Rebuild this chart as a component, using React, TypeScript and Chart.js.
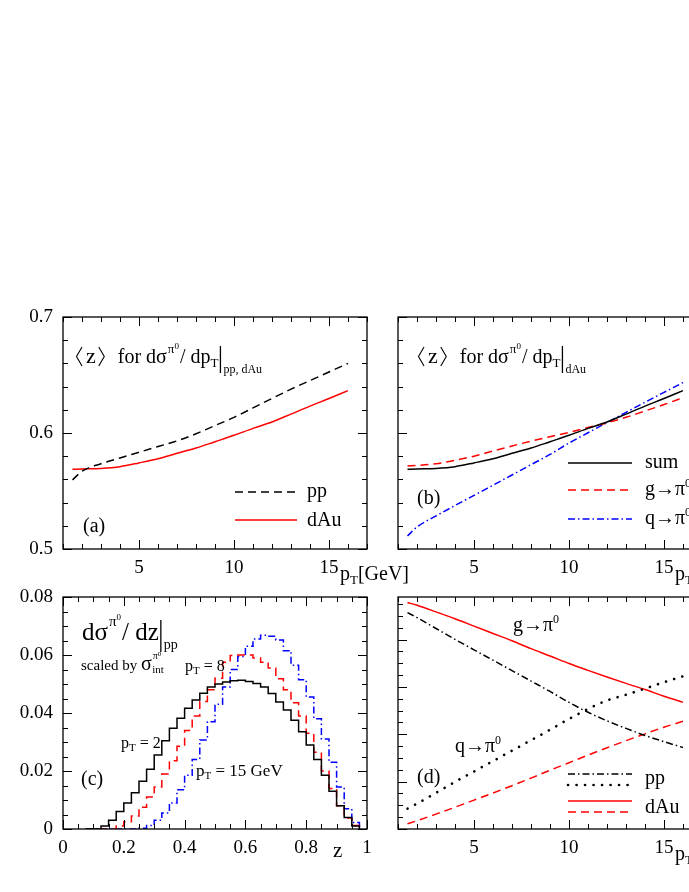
import React, { useEffect, useRef } from 'react';
import { Chart, registerables } from 'chart.js';

Chart.register(...registerables);

const SERIF = '"Liberation Serif", "DejaVu Serif", serif';

// ---------------- data ----------------
// transverse momentum grid (GeV) for panels (a), (b), (d)
const pT = [1.5, 2, 3, 4, 5, 6, 7, 8, 9, 10, 11, 12, 13, 14, 15, 16];

// (a) <z> for dsigma/dpT
const meanZpp = [0.5595, 0.567, 0.5735, 0.5785, 0.5834, 0.5883, 0.5932, 0.5993, 0.6064, 0.6135, 0.6216, 0.6298, 0.6378, 0.6452, 0.6526, 0.66];
const meanZdAu = [0.5687, 0.569, 0.5695, 0.571, 0.5742, 0.5778, 0.5825, 0.587, 0.5925, 0.598, 0.604, 0.6095, 0.6163, 0.6232, 0.6297, 0.6365];

// (b) <z> in dAu split by fragmenting parton
const meanZsum = [0.5687, 0.569, 0.5695, 0.571, 0.5742, 0.5778, 0.5825, 0.587, 0.5925, 0.598, 0.604, 0.6095, 0.6163, 0.6232, 0.6297, 0.6365];
const meanZgluon = [0.5716, 0.572, 0.5735, 0.5765, 0.58, 0.5845, 0.5888, 0.593, 0.5968, 0.6005, 0.6047, 0.6088, 0.6135, 0.619, 0.6245, 0.6305];
const meanZquark = [0.5112, 0.519, 0.5285, 0.5375, 0.5462, 0.555, 0.5638, 0.5727, 0.5815, 0.5913, 0.6002, 0.609, 0.6178, 0.6265, 0.635, 0.6435];

// (d) fractions of g -> pi0 and q -> pi0
const fracGluonPP = [0.914, 0.893, 0.847, 0.801, 0.757, 0.713, 0.669, 0.625, 0.581, 0.535, 0.493, 0.457, 0.425, 0.395, 0.369, 0.344];
const fracQuarkPP = [0.086, 0.107, 0.153, 0.199, 0.243, 0.287, 0.331, 0.375, 0.419, 0.465, 0.507, 0.543, 0.567, 0.593, 0.62, 0.645];
const fracGluonDAu = [0.957, 0.945, 0.917, 0.888, 0.857, 0.826, 0.795, 0.762, 0.731, 0.699, 0.67, 0.642, 0.615, 0.589, 0.561, 0.535];
const fracQuarkDAu = [0.022, 0.035, 0.063, 0.092, 0.122, 0.152, 0.183, 0.215, 0.248, 0.28, 0.312, 0.343, 0.373, 0.402, 0.43, 0.455];

// (c) z distributions, bin lower edges (last entry = upper edge of last bin)
const zEdges = [0.075, 0.1, 0.125, 0.15, 0.175, 0.2, 0.225, 0.25, 0.275, 0.3, 0.325, 0.35, 0.375, 0.4, 0.425, 0.45, 0.475, 0.5, 0.525, 0.55, 0.575, 0.6, 0.625, 0.65, 0.675, 0.7, 0.725, 0.75, 0.775, 0.8, 0.825, 0.85, 0.875, 0.9, 0.925, 0.95, 0.975];
const distPt2 = [0, 0, 0.001, 0.003, 0.006, 0.009, 0.0125, 0.0165, 0.0206, 0.0255, 0.0304, 0.0347, 0.0382, 0.0416, 0.0445, 0.0468, 0.049, 0.05, 0.0507, 0.0511, 0.0513, 0.0509, 0.0502, 0.049, 0.0467, 0.0438, 0.041, 0.0375, 0.0335, 0.029, 0.024, 0.0185, 0.013, 0.008, 0.004, 0.001];
const distPt8 = [0, 0, 0, 0, 0.001, 0.0025, 0.0045, 0.0075, 0.011, 0.0145, 0.019, 0.0235, 0.0285, 0.034, 0.039, 0.044, 0.048, 0.052, 0.0575, 0.0598, 0.06, 0.06, 0.059, 0.0575, 0.0555, 0.0518, 0.048, 0.0435, 0.039, 0.033, 0.0265, 0.02, 0.014, 0.008, 0.0038, 0.0012];
const distPt15 = [0, 0, 0, 0, 0, 0, 0, 0.0003, 0.0012, 0.003, 0.0055, 0.009, 0.0135, 0.0185, 0.024, 0.0307, 0.037, 0.043, 0.049, 0.055, 0.0595, 0.063, 0.0655, 0.0668, 0.0665, 0.0652, 0.0615, 0.0565, 0.0515, 0.0455, 0.038, 0.031, 0.023, 0.0145, 0.007, 0.0022];

// tick labels / major ticks
const pTTickLabels = [5, 10, 15];
const meanZTickLabels = [0.5, 0.6, 0.7];
const zTickLabels = [0, 0.2, 0.4, 0.6, 0.8, 1];
const distTickLabels = [0, 0.02, 0.04, 0.06, 0.08];
const fracMajorTicks = [0, 0.2, 0.4, 0.6, 0.8];

// ---------------- styles ----------------
const RED = '#ff0000';
const BLUE = '#0000ff';
const BLACK = '#000000';
const SOLID: number[] = [];
const DASH = [8, 5];
const DASHDOT = [7, 3, 1.5, 3];
const DOT = [0.1, 8.4];

type AxisSpec = { min: number; max: number; step: number; majors: number[]; labels: boolean; pad: number };
type PanelSpec = {
  key: string;
  left: number;
  top: number;
  w: number;
  h: number;
  yW: number;
  xH: number;
  padRight: number;
  x: AxisSpec;
  y: AxisSpec;
  datasets: any[];
  annotate: (ctx: CanvasRenderingContext2D, L: number, T: number) => void;
};

const near = (a: number, b: number, eps = 1e-7) => Math.abs(a - b) < eps;
const onStep = (v: number, step: number) => near(v / step, Math.round(v / step), 1e-6);
const fmt = (v: number) => String(Math.round(v * 1000) / 1000);

function curve(xs: number[], ys: number[], color: string, dash: number[], width = 1.5, cap: CanvasLineCap = 'butt') {
  return {
    data: xs.map((x, i) => ({ x, y: ys[i] })),
    borderColor: color,
    borderWidth: width,
    borderDash: dash,
    borderCapStyle: cap,
    pointRadius: 0,
    fill: false,
    cubicInterpolationMode: 'monotone',
  };
}

function hist(edges: number[], vals: number[], color: string, dash: number[]) {
  const data = vals.map((v, i) => ({ x: edges[i], y: v }));
  data.push({ x: edges[vals.length], y: 0 });
  return {
    data,
    borderColor: color,
    borderWidth: 1.5,
    borderDash: dash,
    pointRadius: 0,
    fill: false,
    stepped: 'before',
  };
}

type Seg = { t?: string; s?: number; dy?: number; dx?: number; bar?: [number, number]; ang?: 'l' | 'r' };

function rich(ctx: CanvasRenderingContext2D, x: number, y: number, segs: Seg[]) {
  let cx = x;
  for (const g of segs) {
    cx += g.dx ?? 0;
    if (g.ang) {
      ctx.save();
      ctx.lineWidth = 1.1;
      ctx.strokeStyle = '#000';
      ctx.beginPath();
      if (g.ang === 'l') {
        ctx.moveTo(cx + 7, y - 16);
        ctx.lineTo(cx + 1.5, y - 6.5);
        ctx.lineTo(cx + 7, y + 3);
      } else {
        ctx.moveTo(cx + 1, y - 16);
        ctx.lineTo(cx + 6.5, y - 6.5);
        ctx.lineTo(cx + 1, y + 3);
      }
      ctx.stroke();
      ctx.restore();
      cx += 8;
      continue;
    }
    if (g.bar) {
      ctx.save();
      ctx.lineWidth = 1.3;
      ctx.strokeStyle = '#000';
      ctx.beginPath();
      ctx.moveTo(cx + 1, y + g.bar[0]);
      ctx.lineTo(cx + 1, y + g.bar[1]);
      ctx.stroke();
      ctx.restore();
      cx += 3;
      continue;
    }
    ctx.font = `${g.s ?? 20}px ${SERIF}`;
    ctx.fillText(g.t ?? '', cx, y + (g.dy ?? 0));
    cx += ctx.measureText(g.t ?? '').width;
  }
  return cx;
}

function text(ctx: CanvasRenderingContext2D, t: string, x: number, y: number, s = 20) {
  ctx.font = `${s}px ${SERIF}`;
  ctx.fillText(t, x, y);
}

function sample(ctx: CanvasRenderingContext2D, x1: number, x2: number, y: number, color: string, dash: number[], width = 1.5, cap: CanvasLineCap = 'butt') {
  ctx.save();
  ctx.strokeStyle = color;
  ctx.lineWidth = width;
  ctx.setLineDash(dash);
  ctx.lineCap = cap;
  ctx.beginPath();
  ctx.moveTo(x1, y);
  ctx.lineTo(x2, y);
  ctx.stroke();
  ctx.restore();
}

const meanZTitle = (sub: string): Seg[] => [
  { ang: 'l' },
  { t: 'z', s: 22, dx: 3 },
  { ang: 'r', dx: 2 },
  { t: 'for dσ', s: 20, dx: 12 },
  { t: 'π', s: 13, dy: -10, dx: 1 },
  { t: '0', s: 9, dy: -14 },
  { t: '/ dp', s: 20, dx: 1 },
  { t: 'T', s: 13, dy: 4 },
  { bar: [-17, 10], dx: 1 },
  { t: sub, s: 12, dy: 10, dx: 1 },
];

const pTAxisTitle: Seg[] = [{ t: 'p', s: 20 }, { t: 'T', s: 13, dy: 4 }, { t: '[GeV]', s: 20 }];

const pTAxis: AxisSpec = { min: 1, max: 17, step: 1, majors: pTTickLabels, labels: true, pad: 8 };

const PANELS: PanelSpec[] = [
  {
    key: 'a',
    left: 0,
    top: 290,
    w: 420,
    h: 300,
    yW: 63,
    xH: 41,
    padRight: 53,
    x: pTAxis,
    y: { min: 0.5, max: 0.7, step: 0.02, majors: meanZTickLabels, labels: true, pad: 10 },
    datasets: [curve(pT, meanZpp, BLACK, DASH), curve(pT, meanZdAu, RED, SOLID)],
    annotate: (ctx, L, T) => {
      rich(ctx, L + 12, T + 46, meanZTitle('pp, dAu'));
      sample(ctx, L + 172, L + 234, T + 175, BLACK, DASH);
      text(ctx, 'pp', L + 244, T + 180);
      sample(ctx, L + 172, L + 234, T + 203, RED, SOLID);
      text(ctx, 'dAu', L + 244, T + 209);
      text(ctx, '(a)', L + 20, T + 215);
      rich(ctx, L + 277, T + 263, pTAxisTitle);
    },
  },
  {
    key: 'b',
    left: 380,
    top: 290,
    w: 340,
    h: 300,
    yW: 18,
    xH: 41,
    padRight: 18,
    x: pTAxis,
    y: { min: 0.5, max: 0.7, step: 0.02, majors: meanZTickLabels, labels: false, pad: 10 },
    datasets: [curve(pT, meanZsum, BLACK, SOLID), curve(pT, meanZgluon, RED, DASH), curve(pT, meanZquark, BLUE, DASHDOT)],
    annotate: (ctx, L, T) => {
      rich(ctx, L + 19, T + 46, meanZTitle('dAu'));
      sample(ctx, L + 170, L + 234, T + 146, BLACK, SOLID);
      text(ctx, 'sum', L + 247, T + 151);
      sample(ctx, L + 170, L + 234, T + 173, RED, DASH);
      rich(ctx, L + 247, T + 178, [{ t: 'g→π', s: 20 }, { t: '0', s: 12, dy: -8 }]);
      sample(ctx, L + 170, L + 234, T + 202, BLUE, DASHDOT);
      rich(ctx, L + 247, T + 207, [{ t: 'q→π', s: 20 }, { t: '0', s: 12, dy: -8 }]);
      text(ctx, '(b)', L + 19, T + 187);
      rich(ctx, L + 277, T + 263, pTAxisTitle);
    },
  },
  {
    key: 'c',
    left: 0,
    top: 570,
    w: 420,
    h: 322,
    yW: 63,
    xH: 63,
    padRight: 53,
    x: { min: 0, max: 1, step: 0.05, majors: zTickLabels, labels: true, pad: 8 },
    y: { min: 0, max: 0.08, step: 0.005, majors: distTickLabels, labels: true, pad: 10 },
    datasets: [hist(zEdges, distPt2, BLACK, SOLID), hist(zEdges, distPt8, RED, DASH), hist(zEdges, distPt15, BLUE, DASHDOT)],
    annotate: (ctx, L, T) => {
      rich(ctx, L + 19, T + 43, [
        { t: 'dσ', s: 25 },
        { t: 'π', s: 15, dy: -14, dx: 1 },
        { t: '0', s: 9, dy: -20 },
        { t: '/ dz', s: 25, dx: 1 },
        { bar: [-20, 12], dx: 1 },
        { t: 'pp', s: 14, dy: 9, dx: 1 },
      ]);
      rich(ctx, L + 18, T + 73, [
        { t: 'scaled by ', s: 15 },
        { t: 'σ', s: 20 },
        { t: 'π', s: 10, dy: -11, dx: 1 },
        { t: '0', s: 7, dy: -14 },
        { t: 'int', s: 11, dy: 3, dx: -9 },
      ]);
      rich(ctx, L + 122, T + 74, [{ t: 'p', s: 16 }, { t: 'T', s: 11, dy: 3 }, { t: ' = 8', s: 16 }]);
      rich(ctx, L + 58, T + 151, [{ t: 'p', s: 16 }, { t: 'T', s: 11, dy: 3 }, { t: ' = 2', s: 16 }]);
      rich(ctx, L + 133, T + 179, [{ t: 'p', s: 17 }, { t: 'T', s: 11, dy: 3 }, { t: ' = 15 GeV', s: 17 }]);
      text(ctx, '(c)', L + 18, T + 188);
      text(ctx, 'z', L + 270, T + 260, 21);
    },
  },
  {
    key: 'd',
    left: 380,
    top: 570,
    w: 340,
    h: 322,
    yW: 18,
    xH: 63,
    padRight: 18,
    x: pTAxis,
    y: { min: 0, max: 0.98, step: 0.05, majors: fracMajorTicks, labels: false, pad: 10 },
    datasets: [
      curve(pT, fracGluonPP, BLACK, DASHDOT),
      curve(pT, fracQuarkPP, BLACK, DOT, 2.6, 'round'),
      curve(pT, fracGluonDAu, RED, SOLID),
      curve(pT, fracQuarkDAu, RED, DASH),
    ],
    annotate: (ctx, L, T) => {
      rich(ctx, L + 115, T + 34, [{ t: 'g→π', s: 20 }, { t: '0', s: 12, dy: -8 }]);
      rich(ctx, L + 57, T + 155, [{ t: 'q→π', s: 20 }, { t: '0', s: 12, dy: -8 }]);
      sample(ctx, L + 170, L + 234, T + 177, BLACK, DASHDOT);
      sample(ctx, L + 170, L + 234, T + 188, BLACK, DOT, 2.6, 'round');
      text(ctx, 'pp', L + 247, T + 187);
      sample(ctx, L + 170, L + 234, T + 204, RED, SOLID);
      sample(ctx, L + 170, L + 234, T + 215, RED, DASH);
      text(ctx, 'dAu', L + 247, T + 216);
      text(ctx, '(d)', L + 19, T + 186);
      rich(ctx, L + 277, T + 263, [{ t: 'p', s: 20 }, { t: 'T', s: 13, dy: 4 }]);
    },
  },
];

function axisOptions(ax: AxisSpec, position: 'bottom' | 'left', fit: (s: any) => void) {
  return {
    type: 'linear',
    position,
    min: ax.min,
    max: ax.max,
    grid: { display: false, drawTicks: false },
    border: { display: false },
    ticks: {
      stepSize: ax.step,
      autoSkip: false,
      maxRotation: 0,
      minRotation: 0,
      includeBounds: false,
      maxTicksLimit: 1000,
      padding: ax.pad,
      color: '#000',
      font: { family: SERIF, size: 19 },
      callback: (v: number) => (ax.labels && ax.majors.some((m) => near(m, v)) ? fmt(v) : ''),
    },
    afterFit: fit,
  };
}

function framePlugin(spec: PanelSpec) {
  return {
    id: 'frameTicksNotes_' + spec.key,
    afterDraw(chart: any) {
      const ctx: CanvasRenderingContext2D = chart.ctx;
      const a = chart.chartArea;
      const xs = chart.scales.x;
      const ys = chart.scales.y;
      ctx.save();
      ctx.setLineDash([]);
      ctx.strokeStyle = '#000';
      ctx.lineWidth = 1;
      ctx.beginPath();
      for (const t of xs.ticks) {
        const v = t.value;
        if (!onStep(v, spec.x.step)) continue;
        const len = spec.x.majors.some((m) => near(m, v)) ? 9 : 5;
        const px = Math.round(xs.getPixelForValue(v)) + 0.5;
        ctx.moveTo(px, a.bottom);
        ctx.lineTo(px, a.bottom - len);
        ctx.moveTo(px, a.top);
        ctx.lineTo(px, a.top + len);
      }
      for (const t of ys.ticks) {
        const v = t.value;
        if (!onStep(v, spec.y.step)) continue;
        const len = spec.y.majors.some((m) => near(m, v)) ? 9 : 5;
        const py = Math.round(ys.getPixelForValue(v)) + 0.5;
        ctx.moveTo(a.left, py);
        ctx.lineTo(a.left + len, py);
        ctx.moveTo(a.right, py);
        ctx.lineTo(a.right - len, py);
      }
      ctx.stroke();
      ctx.lineWidth = 1.3;
      ctx.strokeRect(a.left, a.top, a.right - a.left, a.bottom - a.top);
      ctx.fillStyle = '#000';
      ctx.textAlign = 'left';
      ctx.textBaseline = 'alphabetic';
      spec.annotate(ctx, a.left, a.top);
      ctx.restore();
    },
  };
}

function buildConfig(spec: PanelSpec): any {
  return {
    type: 'line',
    data: { datasets: spec.datasets },
    options: {
      animation: false,
      responsive: false,
      devicePixelRatio: 1,
      events: [],
      layout: { padding: { left: 0, top: 27, right: spec.padRight, bottom: 0 } },
      plugins: { legend: { display: false }, tooltip: { enabled: false }, title: { display: false } },
      scales: {
        x: axisOptions(spec.x, 'bottom', (s: any) => {
          s.height = spec.xH;
        }),
        y: axisOptions(spec.y, 'left', (s: any) => {
          s.width = spec.yW;
        }),
      },
    },
    plugins: [framePlugin(spec)],
  };
}

function PanelChart({ spec }: { spec: PanelSpec }) {
  const ref = useRef<HTMLCanvasElement | null>(null);
  useEffect(() => {
    if (!ref.current) return;
    const chart = new Chart(ref.current, buildConfig(spec));
    return () => chart.destroy();
  }, [spec]);
  return (
    <canvas
      ref={ref}
      width={spec.w}
      height={spec.h}
      style={{ position: 'absolute', left: spec.left, top: spec.top, width: spec.w, height: spec.h, display: 'block' }}
    />
  );
}

export default function App() {
  return (
    <div style={{ position: 'fixed', left: 0, top: 0, width: 689, height: 892, overflow: 'hidden', background: '#fff' }}>
      {PANELS.map((p) => (
        <PanelChart key={p.key} spec={p} />
      ))}
    </div>
  );
}
